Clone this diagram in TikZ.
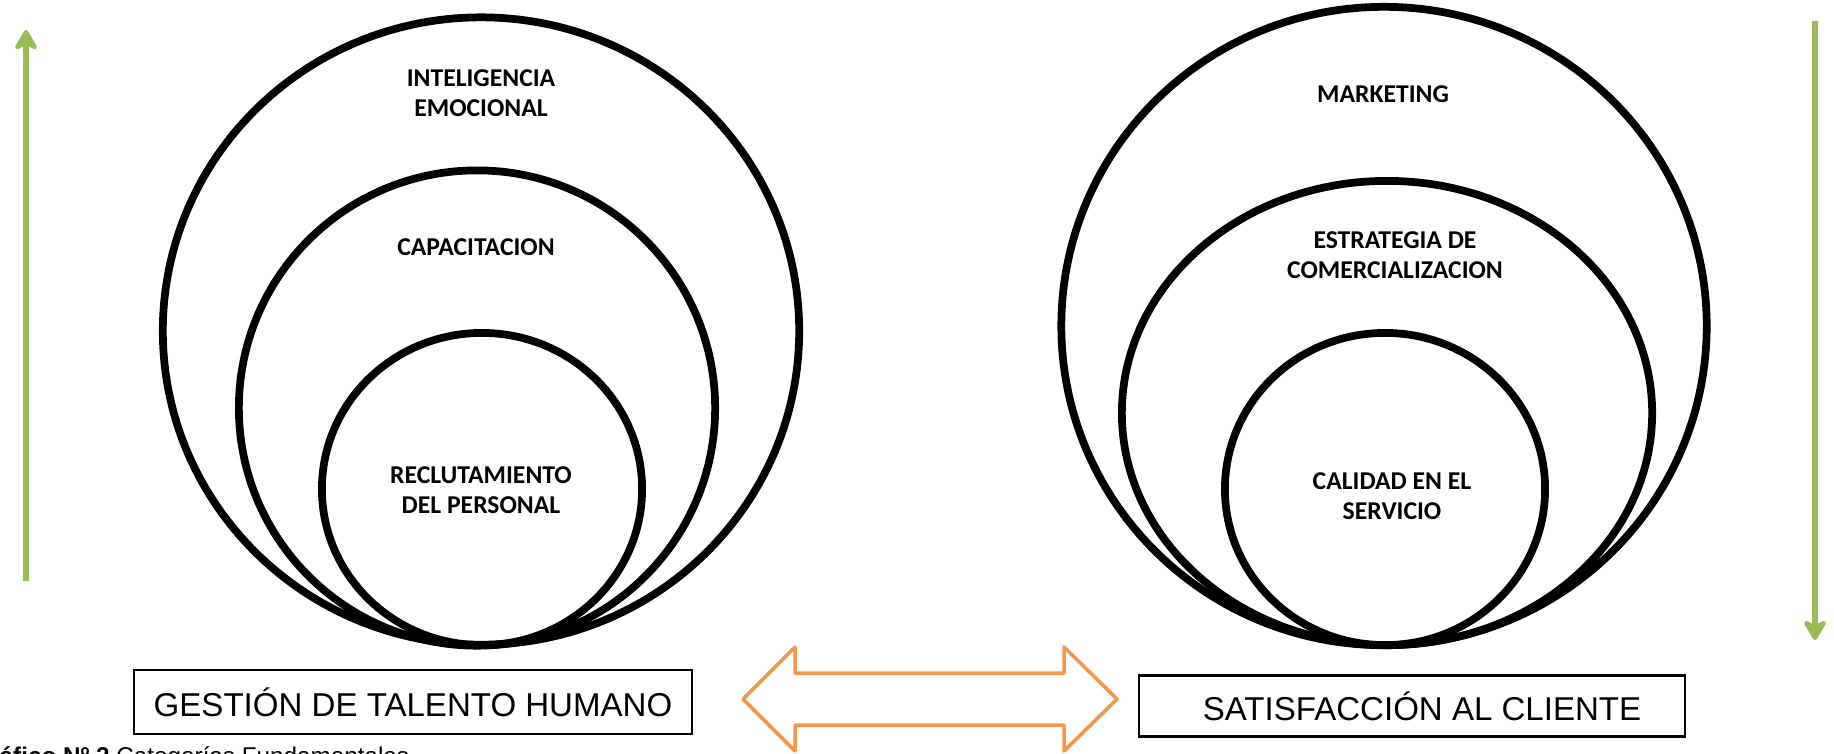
\documentclass[tikz,border=0pt]{standalone}
\usepackage{fontspec}
\setmainfont{Liberation Sans}
\newfontfamily\ringfont{Carlito}
\usetikzlibrary{arrows.meta,shapes.geometric}
\definecolor{trendgreen}{RGB}{155,187,89}
\definecolor{linkorange}{RGB}{247,150,70}
\tikzset{>={Stealth[length=2.4mm,width=2.8mm,inset=0.7mm,round]},
  ring/.style={draw, line width=2.2pt, ellipse, inner sep=0pt},
  ringlabel/.style={font=\ringfont\bfseries\fontsize{7.3}{8.4}\selectfont, align=center, inner sep=0pt},
  titlebox/.style={draw, line width=0.6pt, font=\fontsize{9.4}{11}\selectfont, inner sep=0pt},
  trend/.style={->, line width=1.5pt, draw=trendgreen},
}

\begin{document}
\begin{tikzpicture}[x=0.01cm,y=-0.01cm]
    \useasboundingbox (0,0) rectangle (1834,753);
    \clip (0,0) rectangle (1834,753);
    % talento humano
    \node[ring, minimum width=6.36cm, minimum height=6.27cm] (emoc) at (481,331) {};
    \node[ring, minimum width=4.76cm, minimum height=4.75cm] (capac) at (477,408) {};
    \node[ring, minimum width=3.20cm, minimum height=3.12cm] (reclu) at (482,489) {};
    \node[ringlabel] (emoclbl) at (481,93) {INTELIGENCIA\\EMOCIONAL};
    \node[ringlabel] (capaclbl) at (476,247) {CAPACITACION};
    \node[ringlabel] (reclulbl) at (481,490) {RECLUTAMIENTO\\DEL PERSONAL};
    % satisfaccion
    \node[ring, minimum width=6.45cm, minimum height=6.38cm] (mkt) at (1384,326) {};
    \node[ring, minimum width=5.30cm, minimum height=4.64cm] (estr) at (1387,413) {};
    \node[ring, minimum width=3.20cm, minimum height=3.12cm] (cali) at (1385,489) {};
    \node[ringlabel] (mktlbl) at (1383,94) {MARKETING};
    \node[ringlabel] (estrlbl) at (1395,255) {ESTRATEGIA DE\\COMERCIALIZACION};
    \node[ringlabel] (calilbl) at (1392,496) {CALIDAD EN EL\\SERVICIO};
    % titulos
    \node[titlebox, minimum width=5.58cm, minimum height=0.64cm] (gth) at (413,702) {GESTIÓN DE TALENTO HUMANO};
    \node[titlebox, minimum width=5.45cm, minimum height=0.61cm] (sac) at (1412,706) {\hspace*{0.2cm}SATISFACCIÓN AL CLIENTE};
    \draw[linkorange, line width=1pt, line join=round]
      (743,699) -- (795,647) -- (795,673) -- (1064,673) -- (1064,647) -- (1117,699)
      -- (1064,751) -- (1064,725) -- (795,725) -- (795,751) -- cycle;
    % flechas verdes
    \coordinate (upfoot) at (26,581);
    \coordinate (uptip) at (26,30);
    \coordinate (downfoot) at (1815,21);
    \coordinate (downtip) at (1815,640);
    \draw[trend] (upfoot) -- (uptip);
    \draw[trend] (downfoot) -- (downtip);
    \node[anchor=base west, inner sep=0pt, font=\fontsize{6.9}{8}\selectfont] (capt) at (-1,764)
      {\textbf{áfico Nº 2} Categorías Fundamentales};
  \end{tikzpicture}
\end{document}
